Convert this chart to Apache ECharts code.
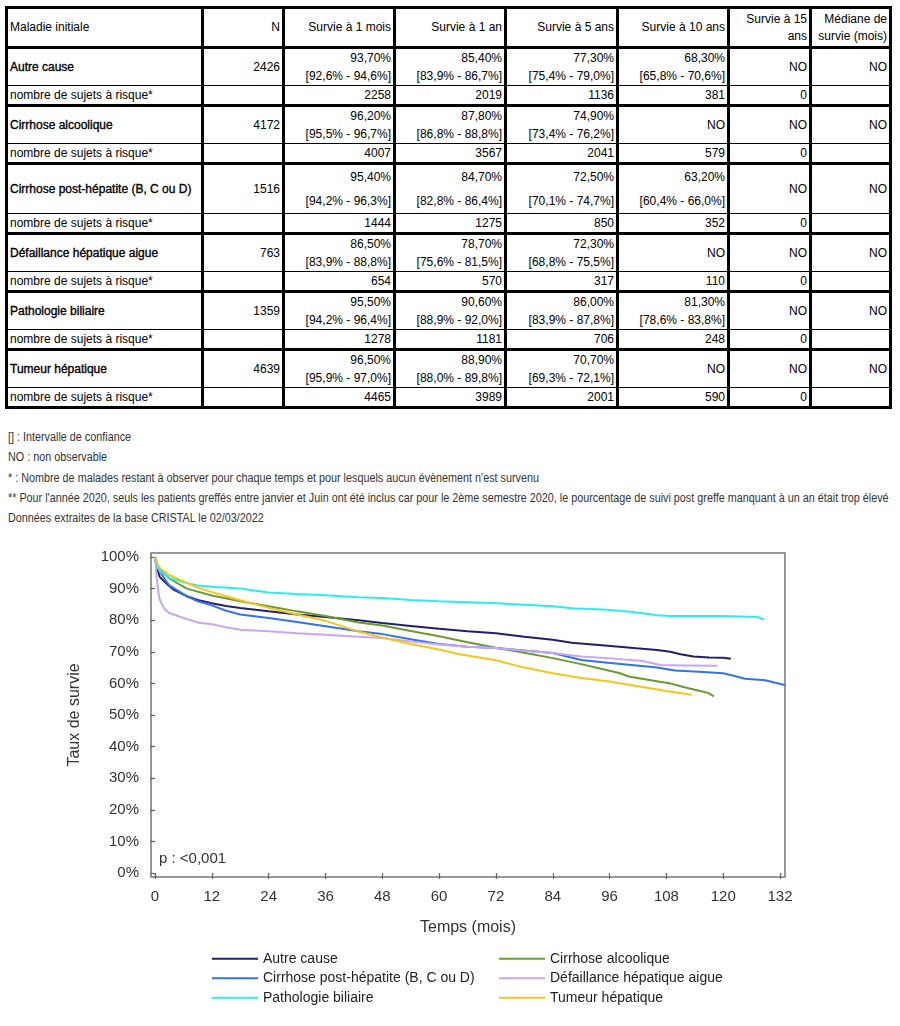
<!DOCTYPE html>
<html><head><meta charset="utf-8">
<script src="https://cdn.jsdelivr.net/npm/echarts@6/dist/echarts.min.js"></script>
<style>
html,body{margin:0;padding:0;background:#fff;}
body{width:900px;height:1026px;position:relative;overflow:hidden;font-family:"Liberation Sans",Arial,sans-serif;}
#tbl{position:absolute;left:5px;top:6px;width:884px;border-collapse:collapse;table-layout:fixed;font-size:12px;color:#000;}
#tbl td{border:3px solid #000;padding:0 2px 0 2px;text-align:right;vertical-align:middle;overflow:hidden;white-space:nowrap;}
#tbl td.name{text-align:left;}
#tbl td.b{-webkit-text-stroke:0.35px #000;}
#tbl tr.data td{border-bottom-width:1px;}
#tbl tr.risk td{border-top-width:1px;line-height:18px;}
#tbl tr.hdr td{white-space:normal;line-height:17px;}
#notes{position:absolute;left:8px;top:429px;font-size:12px;color:#333;}
#notes div{height:20.3px;line-height:16px;white-space:nowrap;transform:scaleX(0.9);transform-origin:0 0;}
#chart{position:absolute;left:0;top:540px;width:900px;height:486px;}
</style></head>
<body>
<table id="tbl"><colgroup>
<col style="width:196px"><col style="width:81px"><col style="width:111px"><col style="width:111px"><col style="width:112px"><col style="width:111px"><col style="width:82px"><col style="width:80px">
</colgroup><tbody id="tb"></tbody></table>
<div id="notes"></div>
<div id="chart"></div>
<script>
// ---------- table data ----------
const headers = ["Maladie initiale","N","Survie à 1 mois","Survie à 1 an","Survie à 5 ans","Survie à 10 ans","Survie à 15 ans","Médiane de survie (mois)"];
const diseases = ["Autre cause","Cirrhose alcoolique","Cirrhose post-hépatite (B, C ou D)","Défaillance hépatique aigue","Pathologie biliaire","Tumeur hépatique"];
const nPatients = [2426,4172,1516,763,1359,4639];
const surv1m = ["93,70%","96,20%","95,40%","86,50%","95,50%","96,50%"];
const ci1m = ["[92,6% - 94,6%]","[95,5% - 96,7%]","[94,2% - 96,3%]","[83,9% - 88,8%]","[94,2% - 96,4%]","[95,9% - 97,0%]"];
const surv1y = ["85,40%","87,80%","84,70%","78,70%","90,60%","88,90%"];
const ci1y = ["[83,9% - 86,7%]","[86,8% - 88,8%]","[82,8% - 86,4%]","[75,6% - 81,5%]","[88,9% - 92,0%]","[88,0% - 89,8%]"];
const surv5y = ["77,30%","74,90%","72,50%","72,30%","86,00%","70,70%"];
const ci5y = ["[75,4% - 79,0%]","[73,4% - 76,2%]","[70,1% - 74,7%]","[68,8% - 75,5%]","[83,9% - 87,8%]","[69,3% - 72,1%]"];
const surv10y = ["68,30%","NO","63,20%","NO","81,30%","NO"];
const ci10y = ["[65,8% - 70,6%]","","[60,4% - 66,0%]","","[78,6% - 83,8%]",""];
const surv15y = ["NO","NO","NO","NO","NO","NO"];
const medianSurv = ["NO","NO","NO","NO","NO","NO"];
const riskLabel = "nombre de sujets à risque*";
const risk1m = [2258,4007,1444,654,1278,4465];
const risk1y = [2019,3567,1275,570,1181,3989];
const risk5y = [1136,2041,850,317,706,2001];
const risk10y = [381,579,352,110,248,590];
const risk15y = [0,0,0,0,0,0];
const notes = [
 "[] : Intervalle de confiance",
 "NO : non observable",
 "* : Nombre de malades restant à observer pour chaque temps et pour lesquels aucun évènement n'est survenu",
 "** Pour l'année 2020, seuls les patients greffés entre janvier et Juin ont été inclus car pour le 2ème semestre 2020, le pourcentage de suivi post greffe manquant à un an était trop élevé",
 "Données extraites de la base CRISTAL le 02/03/2022"
];

// ---------- chart data (months, survival %) ----------
const xTicks = [0,12,24,36,48,60,72,84,96,108,120,132];
const yTicks = [0,10,20,30,40,50,60,70,80,90,100];
const seriesNames = ["Autre cause","Cirrhose alcoolique","Cirrhose post-hépatite (B, C ou D)","Défaillance hépatique aigue","Pathologie biliaire","Tumeur hépatique"];
const seriesColors = ["#20206e","#6b9b2c","#3274e6","#c9a6f2","#2aeeee","#f6c51a"];
const autreCause = [[0,100],[0.3,97],[1,93.7],[2.5,91.5],[4,89.6],[6.7,87.6],[9,86.4],[12,85.4],[15,84.5],[18,83.9],[24,82.8],[30,81.8],[36,81.0],[43,80.0],[48,79.1],[54,78.2],[60,77.3],[66,76.5],[72,75.9],[78,74.8],[84,73.8],[88,72.9],[95.6,71.9],[101.7,71.1],[106,70.6],[108.8,70.0],[111,69.2],[113.7,68.5],[117,68.2],[120,68.1],[121.6,67.8]];
const cirrhoseAlcoolique = [[0,100],[0.5,97.5],[1,96.2],[3,93.2],[6.7,90.0],[12,87.8],[18,86.0],[24,84.4],[30,82.8],[36,81.3],[43,79.3],[48,78.3],[54,76.6],[60,74.9],[66,73.0],[72,71.3],[78,69.7],[84,68.0],[90,66.1],[96,64.0],[98.2,63.2],[100,62.2],[106,60.7],[108.8,60.0],[111,59.1],[114,58.0],[116.8,57.0],[118,55.9]];
const cirrhosePostHep = [[0,100],[0.3,97.2],[1,95.4],[3,91.0],[6.7,87.6],[9,86.0],[12,84.7],[15,83.0],[18,81.8],[24,80.7],[30,79.4],[36,78.1],[43,76.5],[48,75.6],[54,74.0],[60,72.5],[66,71.6],[72,71.2],[78,70.4],[84,69.6],[90,67.4],[95.6,66.5],[101.7,65.7],[106,65.0],[109.8,64.1],[115.8,63.6],[120,63.2],[122,62.5],[124.6,61.5],[128.9,61.0],[131,60.2],[133,59.5]];
const defaillanceAigue = [[0,100],[0.3,94],[0.7,89],[1,86.5],[2,83.5],[3,82.3],[6.7,80.4],[9,79.3],[12,78.7],[15,77.8],[18,77.0],[24,76.5],[30,75.9],[36,75.4],[43,74.8],[48,74.4],[54,73.3],[60,72.3],[66,71.6],[72,71.2],[78,70.3],[84,69.6],[90,68.5],[95.6,68.0],[103,67.1],[106.7,65.8],[112,65.7],[118.8,65.6]];
const pathologieBiliaire = [[0,100],[0.5,97],[1,95.5],[3.2,93.3],[6.7,91.8],[9,91.0],[12,90.6],[18,90.0],[24,88.8],[30,88.3],[36,87.9],[43,87.3],[48,87.0],[54,86.4],[60,86.0],[66,85.7],[72,85.4],[78,84.9],[84,84.4],[88,83.8],[95.6,83.3],[100.3,82.7],[103,82.2],[106,81.6],[108.8,81.3],[120,81.3],[127.3,81.0],[128.6,80.2]];
const tumeurHepatique = [[0,100],[0.5,98],[1,96.5],[3,94.3],[6.7,91.8],[9,90.3],[12,88.9],[18,86.3],[24,83.9],[30,81.8],[36,79.8],[43,76.4],[48,74.5],[54,72.5],[60,70.7],[64,69.3],[72,67.3],[78,65.0],[84,63.2],[90,61.7],[96,60.6],[102,59.1],[108,57.6],[113.3,56.4]];
const curves = [autreCause,cirrhoseAlcoolique,cirrhosePostHep,defaillanceAigue,pathologieBiliaire,tumeurHepatique];
const legendCol1 = ["Autre cause","Cirrhose post-hépatite (B, C ou D)","Pathologie biliaire"];
const legendCol2 = ["Cirrhose alcoolique","Défaillance hépatique aigue","Tumeur hépatique"];

// ---------- build table ----------
const tb = document.getElementById('tb');
function td(html, cls, style){ return '<td'+(cls?' class="'+cls+'"':'')+(style?' style="'+style+'"':'')+'>'+html+'</td>'; }
let h = '<tr class="hdr" style="height:40px">';
headers.forEach((t,i)=>{ h += td(t, i===0?'name':''); });
h += '</tr>';
function two(a,b){ return b ? a+'<br>'+b : a; }
diseases.forEach((d,i)=>{
  const lh = (i===2) ? 24 : 18;
  const st = 'line-height:'+lh+'px';
  h += '<tr class="data">';
  h += td(d,'name b',st) + td(nPatients[i],'',st) +
       td(two(surv1m[i],ci1m[i]),'',st) + td(two(surv1y[i],ci1y[i]),'',st) +
       td(two(surv5y[i],ci5y[i]),'',st) + td(two(surv10y[i],ci10y[i]),'',st) +
       td(surv15y[i],'',st) + td(medianSurv[i],'',st);
  h += '</tr>';
  h += '<tr class="risk">' + td(riskLabel,'name') + td('') + td(risk1m[i]) + td(risk1y[i]) + td(risk5y[i]) + td(risk10y[i]) + td(risk15y[i]) + td('') + '</tr>';
});
tb.innerHTML = h;
document.getElementById('notes').innerHTML = notes.map(n=>'<div>'+n.replace(/</g,'&lt;')+'</div>').join('');

// ---------- chart ----------
const chart = echarts.init(document.getElementById('chart'), null, {renderer:'canvas'});
const axisTxt = {color:'#333', fontSize:15, fontFamily:'Liberation Sans, Arial, sans-serif'};
const legTxt = {color:'#222', fontSize:14, lineHeight:15.5, fontFamily:'Liberation Sans, Arial, sans-serif'};
chart.setOption({
  animation:false,
  backgroundColor:'#fff',
  grid:{left:151, right:115, top:13, bottom:149, show:true, borderColor:'#777', borderWidth:1.5, backgroundColor:'transparent'},
  xAxis:{type:'value', min:-0.85, max:133.05,
    name:'Temps (mois)', nameLocation:'middle', nameGap:43,
    nameTextStyle:{color:'#333', fontSize:16, fontFamily:'Liberation Sans, Arial, sans-serif'},
    axisLine:{show:false}, splitLine:{show:false},
    axisTick:{show:true, customValues:xTicks, length:6, lineStyle:{color:'#666', width:1.3}},
    axisLabel:Object.assign({customValues:xTicks, margin:12}, axisTxt)},
  yAxis:{type:'value', min:-1.27, max:101.27,
    name:'Taux de survie', nameLocation:'middle', nameGap:68, nameRotate:90,
    nameTextStyle:{color:'#333', fontSize:16, fontFamily:'Liberation Sans, Arial, sans-serif'},
    axisLine:{show:false}, splitLine:{show:false},
    axisTick:{show:true, customValues:yTicks, length:5, lineStyle:{color:'#666', width:1.3}},
    axisLabel:Object.assign({customValues:yTicks, margin:12, formatter:v=>v+'%'}, axisTxt)},
  legend:[
    {data:legendCol1, orient:'vertical', left:207, top:406, icon:'rect', itemWidth:46, itemHeight:2, itemGap:4,
     textStyle:legTxt, selectedMode:false},
    {data:legendCol2, orient:'vertical', left:494, top:406, icon:'rect', itemWidth:46, itemHeight:2, itemGap:4,
     textStyle:legTxt, selectedMode:false}
  ],
  graphic:[{type:'text', left:159, top:311, style:{text:'p : <0,001', fill:'#333', font:'15px "Liberation Sans", Arial, sans-serif'}}],
  series: seriesNames.map((n,i)=>({
    name:n, type:'line', data:curves[i], showSymbol:false, symbol:'none',
    lineStyle:{color:seriesColors[i], width:2}, itemStyle:{color:seriesColors[i]}
  }))
});
</script>
</body></html>
